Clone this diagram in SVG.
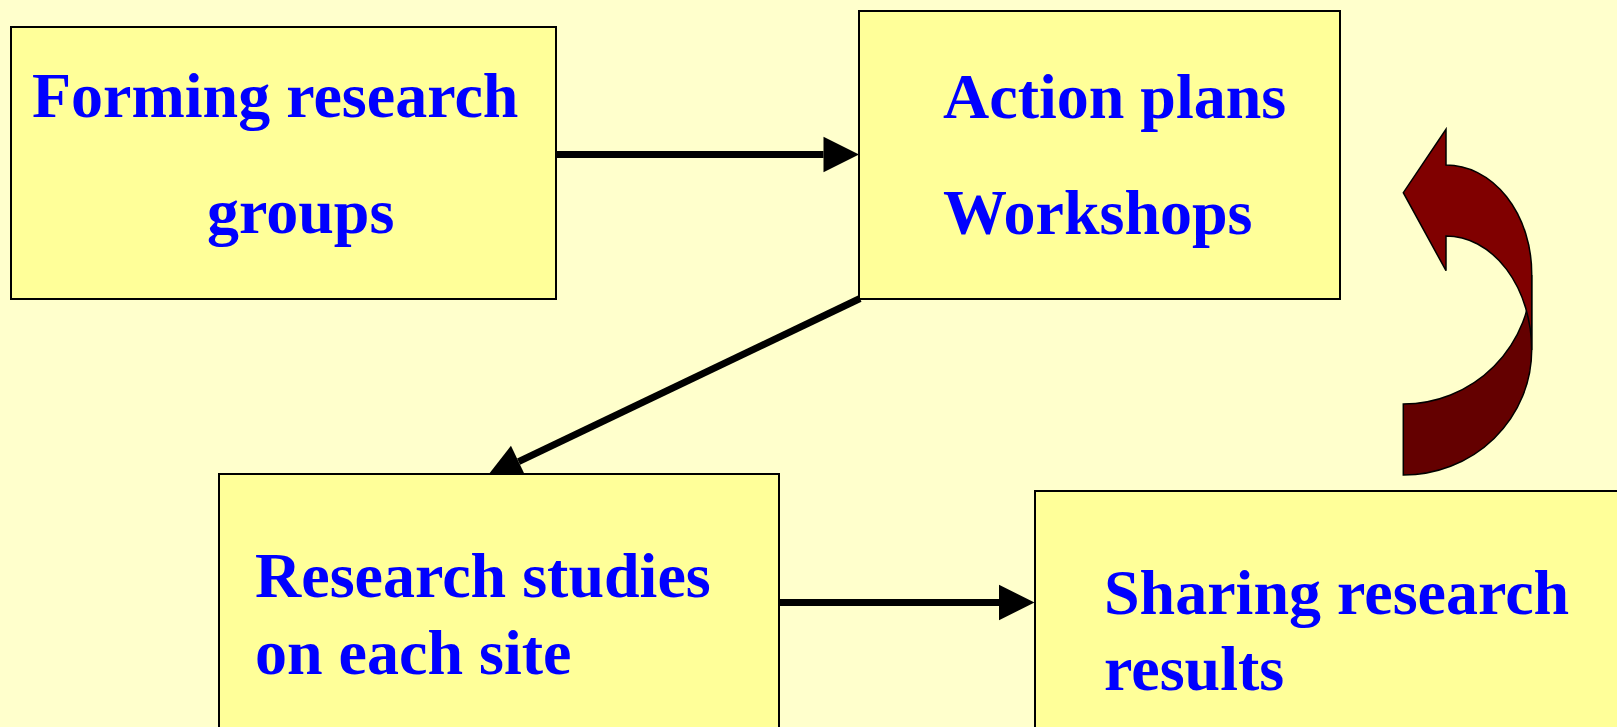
<svg xmlns="http://www.w3.org/2000/svg" width="1617" height="727" viewBox="0 0 1617 727">
<style>
.box{fill:#FFFF99;stroke:#000;stroke-width:2}
.lbl{font-family:"Liberation Serif","Times New Roman",serif;font-weight:bold;font-size:64px;fill:#0000FF}
.conn{stroke:#000;stroke-width:7;fill:none}
</style>
<defs>
<marker id="ah" markerUnits="userSpaceOnUse" markerWidth="40" markerHeight="40" viewBox="0 -20 40 40" refX="0" refY="0" orient="auto" overflow="visible">
<path d="M0,-17.7 L35.5,0 L0,17.7 Z" fill="#000"/>
</marker>
</defs>
<rect x="0" y="0" width="1617" height="727" fill="#FFFFCC"/>
<g id="connectors">
<line class="conn" x1="556" y1="154.5" x2="823.5" y2="154.5" marker-end="url(#ah)"/>
<line class="conn" x1="860" y1="298.5" x2="518.6" y2="461.7" marker-end="url(#ah)"/>
<line class="conn" x1="779" y1="602.5" x2="999" y2="602.5" marker-end="url(#ah)"/>
</g>
<g id="node-forming">
<rect class="box" x="11" y="27" width="545" height="272"/>
<text class="lbl" x="32" y="117">Forming research</text>
<text class="lbl" x="207" y="233">groups</text>
</g>
<g id="node-action">
<rect class="box" x="859" y="11" width="481" height="288"/>
<text class="lbl" x="943" y="117.5">Action plans</text>
<text class="lbl" x="943" y="233.5">Workshops</text>
</g>
<g id="node-research">
<rect class="box" x="219" y="474" width="560" height="270"/>
<text class="lbl" x="255" y="596.5">Research studies</text>
<text class="lbl" x="255" y="674">on each site</text>
</g>
<g id="node-sharing">
<rect class="box" x="1035" y="491" width="600" height="260"/>
<text class="lbl" x="1104" y="614">Sharing research</text>
<text class="lbl" x="1104" y="690">results</text>
</g>
<g id="curved-arrow" stroke="#000" stroke-width="1.5" stroke-linejoin="miter">
<path d="M1403.3,404 A128.3,129 0 0 0 1531.7,275 L1531.7,350 A128.3,125 0 0 1 1403.3,475 Z" fill="#640000"/>
<path d="M1446,165 A85.7,108.3 0 0 1 1531.7,273.3 L1531.7,350 A85.7,114 0 0 0 1446,236 L1446,270.7 L1403.3,192.7 L1446,129.3 Z" fill="#800000"/>
</g>
</svg>
